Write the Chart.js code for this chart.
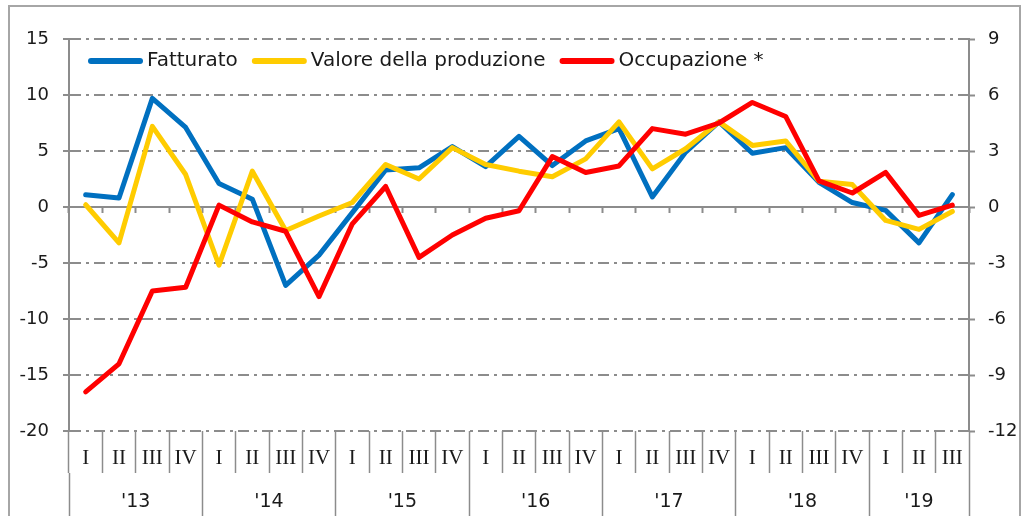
<!DOCTYPE html>
<html lang="it">
<head>
<meta charset="UTF-8">
<title>Fatturato, produzione e occupazione</title>
<script src="https://cdn.jsdelivr.net/npm/chart.js"></script>
<style>
    body { margin: 0; background: #fff; }
    #frame { position: absolute; left: 8px; top: 5px; width: 1009px; height: 600px; border: 2px solid #a6a6a6; }
    #wrap { position: absolute; left: 0; top: 0; width: 1026px; height: 516px; }
</style>
</head>
<body>
<div id="frame"></div>
<div id="wrap"><canvas id="chart"></canvas></div>

<script>
// trimestri 2013 I - 2019 III
const quarters = ['I','II','III','IV','I','II','III','IV','I','II','III','IV','I','II','III','IV',
                  'I','II','III','IV','I','II','III','IV','I','II','III'];
const years = ["'13", "'14", "'15", "'16", "'17", "'18", "'19"];

// asse sinistro
const fatturato = [1.1, 0.8, 9.7, 7.1, 2.1, 0.7, -7.0, -4.3, -0.5, 3.3, 3.5, 5.4, 3.6, 6.3,
                   3.7, 5.9, 7.0, 0.9, 4.9, 7.6, 4.8, 5.3, 2.2, 0.4, -0.3, -3.2, 1.1];
const valore = [0.2, -3.2, 7.2, 2.9, -5.2, 3.2, -2.1, -0.8, 0.4, 3.8, 2.5, 5.3, 3.8, 3.2,
                2.7, 4.3, 7.6, 3.4, 5.2, 7.6, 5.5, 5.9, 2.3, 2.0, -1.2, -2.0, -0.4];
// asse destro
const occupazione = [-9.9, -8.4, -4.5, -4.3, 0.1, -0.8, -1.3, -4.8, -0.9, 1.1, -2.7, -1.5, -0.6, -0.2,
                     2.7, 1.85, 2.2, 4.2, 3.9, 4.5, 5.6, 4.85, 1.4, 0.75, 1.85, -0.45, 0.1];

const GRAY = '#8c8c8c';
const SANS = 'DejaVu Sans';

// limiti degli anni sull'asse delle categorie
const starts = [];
quarters.forEach((q, i) => { if (q === 'I') starts.push(i); });
const edges = starts.concat([quarters.length]);
const centers = starts.map((s, k) => (s + edges[k + 1]) / 2);

// legenda orizzontale dentro l'area del grafico
const inlineLegend = {
    id: 'inlineLegend',
    afterDatasetsDraw(chart) {
        const { ctx, chartArea } = chart;
        ctx.save();
        ctx.font = '20px "' + SANS + '"';
        ctx.textBaseline = 'middle';
        let x = chartArea.left + 19;
        const y = chartArea.top + 22;
        chart.data.datasets.forEach(ds => {
            ctx.strokeStyle = ds.borderColor;
            ctx.lineWidth = 6;
            ctx.lineCap = 'round';
            ctx.beginPath();
            ctx.moveTo(x + 3, y);
            ctx.lineTo(x + 52, y);
            ctx.stroke();
            ctx.fillStyle = '#1a1a1a';
            ctx.fillText(ds.label, x + 59, y);
            x += 59 + ctx.measureText(ds.label).width + 14;
        });
        ctx.restore();
    }
};

new Chart(document.getElementById('chart'), {
    type: 'line',
    data: {
        labels: quarters,
        datasets: [
            { label: 'Fatturato', data: fatturato, yAxisID: 'y', order: 3,
              borderColor: '#0070c0', backgroundColor: '#0070c0' },
            { label: 'Valore della produzione', data: valore, yAxisID: 'y', order: 2,
              borderColor: '#ffcc00', backgroundColor: '#ffcc00' },
            { label: 'Occupazione *', data: occupazione, yAxisID: 'y1', order: 1,
              borderColor: '#ff0000', backgroundColor: '#ff0000' }
        ]
    },
    plugins: [inlineLegend],
    options: {
        responsive: true,
        maintainAspectRatio: false,
        animation: false,
        layout: { padding: { top: 39, left: 0, right: 0, bottom: 0 } },
        elements: {
            line: { borderWidth: 5, tension: 0, borderCapStyle: 'round', borderJoinStyle: 'round' },
            point: { radius: 0 }
        },
        plugins: {
            tooltip: { enabled: false },
            legend: { display: false }
        },
        scales: {
            y: {
                position: 'left', min: -20, max: 15,
                afterFit: s => { s.width = 69; },
                ticks: { stepSize: 5, padding: 14, color: '#1a1a1a', font: { family: SANS, size: 18 } },
                grid: { color: GRAY, lineWidth: 2, tickLength: 6, tickColor: GRAY, tickWidth: 2 },
                border: { color: GRAY, width: 2, dash: ctx => ctx.tick && ctx.tick.value === 0 ? [] : [11, 5, 3, 5] }
            },
            y1: {
                position: 'right', min: -12, max: 9,
                afterFit: s => { s.width = 57; },
                ticks: { stepSize: 3, padding: 13, color: '#1a1a1a', font: { family: SANS, size: 18 } },
                grid: { drawOnChartArea: false, tickLength: 6, tickColor: GRAY, tickWidth: 2 },
                border: { color: GRAY, width: 2 }
            },
            x: {
                position: 'bottom', offset: true, weight: 1,
                afterFit: s => { s.height = 42; },
                ticks: { autoSkip: false, maxRotation: 0, padding: -27, color: '#1a1a1a',
                         font: { family: 'Liberation Serif', size: 21 } },
                grid: { offset: true, drawOnChartArea: false, tickLength: 42, tickColor: GRAY, tickWidth: 1.5 },
                border: { display: false }
            },
            x2: {
                type: 'linear', axis: 'x', position: 'bottom', weight: 2, min: 0, max: quarters.length,
                afterFit: s => { s.height = 43; },
                afterBuildTicks: s => {
                    s.ticks = edges.concat(centers).sort((a, b) => a - b).map(v => ({ value: v }));
                },
                ticks: {
                    autoSkip: false, maxRotation: 0, padding: -25, color: '#1a1a1a',
                    font: { family: SANS, size: 19 },
                    callback: v => { const k = centers.indexOf(v); return k >= 0 ? years[k] : ''; }
                },
                grid: {
                    drawOnChartArea: false, tickLength: 43, tickWidth: 1.5,
                    tickColor: ctx => ctx.tick && centers.includes(ctx.tick.value) ? 'rgba(0,0,0,0)' : GRAY
                },
                border: { display: false }
            },
            x0: {
                type: 'category', axis: 'x', position: { y: 0 }, offset: true,
                ticks: { display: false },
                grid: { offset: true, drawOnChartArea: false, tickLength: 6, tickColor: GRAY, tickWidth: 2 },
                border: { display: false }
            }
        }
    }
});
</script>
</body>
</html>
